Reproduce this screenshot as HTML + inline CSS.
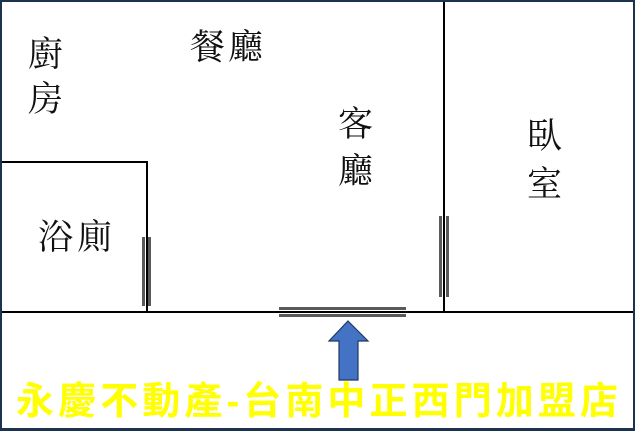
<!DOCTYPE html>
<html><head><meta charset="utf-8"><style>
html,body{margin:0;padding:0;background:#fff}
svg{display:block}
.l{font-family:"Liberation Serif","Noto Serif CJK SC",serif;font-size:35px;fill:#111}
</style></head><body>
<svg width="635" height="431" viewBox="0 0 635 431" xmlns="http://www.w3.org/2000/svg">
<rect x="0" y="0" width="635" height="431" fill="#fff"/>
<g stroke="#000" stroke-width="2" fill="none">
<line x1="444" y1="0" x2="444" y2="312"/>
<line x1="0" y1="312" x2="635" y2="312"/>
<polyline points="0,162 147,162 147,312"/>
</g>
<g fill="#5a5a5a">
<rect x="142" y="237" width="3" height="69"/>
<rect x="148" y="237" width="3" height="69"/>
<rect x="439" y="216" width="3" height="81"/>
<rect x="446" y="216" width="3" height="81"/>
<rect x="279" y="307" width="127" height="3"/>
<rect x="279" y="314" width="127" height="3"/>
</g>
<polygon points="348,321 368,341 358,341 358,380 339,380 339,341 329,341" fill="#4472c4" stroke="#1f3864" stroke-width="1.2"/>
<text class="l" x="28" y="66">廚</text>
<text class="l" x="28" y="111">房</text>
<text class="l" x="190" y="59" textLength="73">餐廳</text>
<text class="l" x="338" y="136">客</text>
<text class="l" x="338" y="183">廳</text>
<text class="l" x="527" y="148">臥</text>
<text class="l" x="527" y="196">室</text>
<text class="l" x="38" y="249" textLength="74">浴廁</text>
<text x="16" y="414" textLength="602" lengthAdjust="spacing" style="font-family:'Liberation Sans','Noto Sans CJK TC',sans-serif;font-size:38px;font-weight:bold;fill:#ffff00">永慶不動產-台南中正西門加盟店</text>
<rect x="1" y="1" width="633" height="428.5" fill="none" stroke="#1c3350" stroke-width="2"/>
<rect x="0" y="428" width="635" height="3" fill="#1c3350"/>
</svg>
</body></html>
